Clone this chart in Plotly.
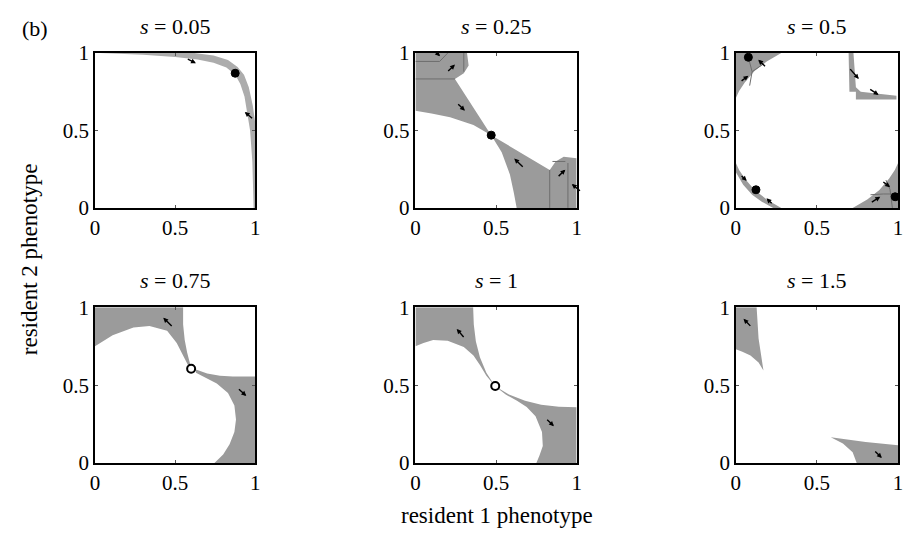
import plotly.graph_objects as go

# ---------------- data ----------------
TITLES = ["0.05", "0.25", "0.5", "0.75", "1", "1.5"]
TICK_VALS = [0, 0.5, 1]
TICK_TEXT = ["0", "0.5", "1"]
X_TITLE = "resident 1 phenotype"
Y_TITLE = "resident 2 phenotype"
PANEL_LABEL = "(b)"

# s = 0.05 : thin band near the upper-right boundary
P1_BAND_X = [0.03, 0.62, 0.74, 0.83, 0.89, 0.93, 0.96, 0.985, 1.0, 1.0, 0.99, 0.982, 0.968, 0.953, 0.933, 0.907, 0.875, 0.82, 0.74, 0.64, 0.50, 0.30, 0.03]
P1_BAND_Y = [1.0, 1.0, 0.985, 0.955, 0.91, 0.86, 0.78, 0.66, 0.55, 0.0, 0.0, 0.30, 0.50, 0.60, 0.72, 0.80, 0.86, 0.907, 0.937, 0.958, 0.975, 0.99, 1.0]
P1_DOTS_X = [0.875]
P1_DOTS_Y = [0.87]
P1_ARROWS = [(0.57, 0.965, 0.63, 0.935), (0.99, 0.57, 0.935, 0.62)]

# s = 0.25
P2_TL_X = [0.0, 0.32, 0.33, 0.30, 0.245, 0.47, 0.36, 0.215, 0.10, 0.0]
P2_TL_Y = [1.0, 1.0, 0.92, 0.87, 0.833, 0.47, 0.535, 0.586, 0.61, 0.628]
P2_BR_X = [1.0, 1.0, 0.92, 0.87, 0.833, 0.47, 0.535, 0.586, 0.61, 0.628]
P2_BR_Y = [0.0, 0.32, 0.33, 0.30, 0.245, 0.47, 0.36, 0.215, 0.10, 0.0]
P2_LINE_X = [0.0, 0.245, None, 0.0, 0.15, 0.20, None, 0.30, 0.30, None, 0.833, 0.833, None, 0.946, 0.946, None, 0.85, 0.93]
P2_LINE_Y = [0.833, 0.833, None, 0.946, 0.946, 1.0, None, 1.0, 0.88, None, 0.0, 0.245, None, 0.0, 0.29, None, 0.30, 0.30]
P2_DOTS_X = [0.47]
P2_DOTS_Y = [0.47]
P2_ARROWS = [(0.112, 1.02, 0.153, 0.98), (0.194, 0.875, 0.245, 0.926), (0.256, 0.679, 0.307, 0.628),
             (0.675, 0.257, 0.613, 0.319), (0.879, 0.196, 0.93, 0.247), (1.03, 0.103, 0.97, 0.154)]

# s = 0.5
P3_TL_X = [0.0, 0.28, 0.19, 0.115, 0.055, 0.02, 0.0]
P3_TL_Y = [1.0, 1.0, 0.945, 0.885, 0.81, 0.755, 0.71]
P3_TR_X = [0.695, 0.725, 0.74, 0.77, 0.99, 0.99, 0.74, 0.74, 0.70]
P3_TR_Y = [1.0, 1.0, 0.78, 0.75, 0.725, 0.70, 0.70, 0.75, 0.75]
P3_BL_X = [0.0, 0.02, 0.055, 0.115, 0.19, 0.28, 0.23, 0.16, 0.10, 0.045, 0.0]
P3_BL_Y = [0.29, 0.245, 0.19, 0.115, 0.055, 0.0, 0.0, 0.04, 0.085, 0.15, 0.23]
P3_BR_X = [0.72, 0.81, 0.885, 0.945, 0.98, 1.0, 1.0, 0.72]
P3_BR_Y = [0.0, 0.055, 0.115, 0.19, 0.245, 0.29, 0.0, 0.0]
P3_LINE_X = [0.077, 0.10, 0.085, None, 0.10, 0.17, None, 0.83, 0.91, 1.0, None, 0.925, 0.95, 0.965]
P3_LINE_Y = [0.973, 0.88, 0.79, None, 0.88, 0.93, None, 0.085, 0.09, 0.09, None, 0.18, 0.12, 0.0]
P3_DOTS_X = [0.077, 0.124, 0.982]
P3_DOTS_Y = [0.973, 0.117, 0.072]
P3_ARROWS = [(0.189, 0.906, 0.138, 0.957), (0.026, 0.813, 0.077, 0.854), (0.697, 0.906, 0.758, 0.833),
             (0.819, 0.772, 0.88, 0.73), (0.026, 0.216, 0.067, 0.175), (0.23, 0.02, 0.189, 0.062),
             (0.90, 0.175, 0.951, 0.134), (0.829, 0.031, 0.89, 0.072)]

# s = 0.75
P4_TL_X = [0.0, 0.55, 0.55, 0.56, 0.575, 0.59, 0.60, 0.58, 0.55, 0.51, 0.45, 0.34, 0.24, 0.11, 0.0]
P4_TL_Y = [1.0, 1.0, 0.89, 0.79, 0.71, 0.64, 0.61, 0.63, 0.69, 0.77, 0.85, 0.88, 0.87, 0.82, 0.75]
P4_BR_X = [1.0, 1.0, 0.86, 0.78, 0.70, 0.63, 0.63, 0.69, 0.76, 0.83, 0.87, 0.88, 0.87, 0.84, 0.80, 0.745]
P4_BR_Y = [0.0, 0.555, 0.555, 0.56, 0.575, 0.60, 0.58, 0.55, 0.51, 0.45, 0.37, 0.28, 0.20, 0.12, 0.055, 0.0]
P4_OPEN_X = [0.60]
P4_OPEN_Y = [0.605]
P4_ARROWS = [(0.488, 0.871, 0.426, 0.933), (0.889, 0.483, 0.944, 0.431)]

# s = 1
P5_TL_X = [0.0, 0.358, 0.362, 0.375, 0.40, 0.44, 0.49, 0.48, 0.44, 0.40, 0.36, 0.30, 0.20, 0.11, 0.05, 0.0]
P5_TL_Y = [1.0, 1.0, 0.89, 0.78, 0.68, 0.58, 0.50, 0.51, 0.56, 0.63, 0.69, 0.745, 0.785, 0.79, 0.77, 0.75]
P5_BR_X = [1.0, 1.0, 0.89, 0.78, 0.68, 0.58, 0.50, 0.51, 0.56, 0.63, 0.69, 0.745, 0.785, 0.79, 0.77, 0.75]
P5_BR_Y = [0.0, 0.358, 0.362, 0.375, 0.40, 0.44, 0.49, 0.48, 0.44, 0.40, 0.36, 0.30, 0.20, 0.11, 0.05, 0.0]
P5_OPEN_X = [0.495]
P5_OPEN_Y = [0.495]
P5_ARROWS = [(0.307, 0.80, 0.256, 0.861), (0.808, 0.288, 0.859, 0.237)]

# s = 1.5
P6_TL_X = [0.0, 0.128, 0.14, 0.17, 0.14, 0.09, 0.04, 0.0]
P6_TL_Y = [1.0, 1.0, 0.80, 0.595, 0.645, 0.69, 0.715, 0.73]
P6_BR_X = [0.585, 0.80, 1.0, 1.0, 0.745, 0.72, 0.66]
P6_BR_Y = [0.166, 0.135, 0.115, 0.0, 0.0, 0.07, 0.125]
P6_ARROWS = [(0.098, 0.871, 0.047, 0.926), (0.85, 0.084, 0.90, 0.033)]

# ---------------- figure ----------------
W, H = 909, 541
GRAY = "#9b9b9b"
LIGHT = "#acacac"
LINE_GRAY = "#6e6e6e"
FONT = "Liberation Serif, Times New Roman, Times, DejaVu Serif, serif"
FS = 22

# panel frames in pixels (left, right, top, bottom)
PANELS = [(91, 253, 43, 205), (415, 578, 43, 205), (739, 903, 43, 205),
          (91, 253, 309, 472), (415, 578, 309, 472), (739, 903, 309, 472)]

fig = go.Figure()
layout = dict(width=W, height=H, margin=dict(l=0, r=0, t=0, b=0),
              paper_bgcolor="white", plot_bgcolor="white", showlegend=False,
              font=dict(family=FONT, size=FS, color="black"))
annotations = []

for i, (l, r, t, b) in enumerate(PANELS):
    k = "" if i == 0 else str(i + 1)
    common = dict(range=[0, 1], showgrid=False, zeroline=False, showline=True, mirror="ticks",
                  linecolor="black", linewidth=1.5, ticks="inside", ticklen=3,
                  tickcolor="#555", tickvals=TICK_VALS, ticktext=TICK_TEXT,
                  tickfont=dict(family=FONT, size=FS - 1, color="black"), fixedrange=True)
    layout["xaxis" + k] = dict(domain=[l / W, r / W], anchor="y" + k, **common)
    layout["yaxis" + k] = dict(domain=[1 - b / H, 1 - t / H], anchor="x" + k, **common)
    annotations.append(dict(text="<i>s</i> = " + TITLES[i], x=(l + r) / 2 / W, y=1 - (t - 28) / H,
                            xref="paper", yref="paper", showarrow=False, xanchor="center",
                            yanchor="middle", font=dict(family=FONT, size=FS, color="black")))


def poly(xs, ys, idx, color=GRAY):
    k = "" if idx == 0 else str(idx + 1)
    fig.add_trace(go.Scatter(x=xs, y=ys, mode="lines", fill="toself", fillcolor=color,
                             line=dict(width=0, color=color), hoverinfo="skip",
                             xaxis="x" + k, yaxis="y" + k))


def lines(xs, ys, idx):
    k = "" if idx == 0 else str(idx + 1)
    fig.add_trace(go.Scatter(x=xs, y=ys, mode="lines", line=dict(width=1, color=LINE_GRAY),
                             hoverinfo="skip", xaxis="x" + k, yaxis="y" + k, connectgaps=False))


def dots(xs, ys, idx, open_=False):
    k = "" if idx == 0 else str(idx + 1)
    if open_:
        m = dict(size=8, color="white", line=dict(color="black", width=2))
    else:
        m = dict(size=8, color="black", line=dict(color="black", width=1))
    fig.add_trace(go.Scatter(x=xs, y=ys, mode="markers", marker=m, hoverinfo="skip",
                             xaxis="x" + k, yaxis="y" + k))


def arrows(lst, idx):
    k = "" if idx == 0 else str(idx + 1)
    for (x0, y0, x1, y1) in lst:
        annotations.append(dict(x=x1, y=y1, ax=x0, ay=y0, xref="x" + k, yref="y" + k,
                                axref="x" + k, ayref="y" + k, text="", showarrow=True,
                                arrowhead=2, arrowsize=0.7, arrowwidth=1.4, arrowcolor="black",
                                standoff=0, startstandoff=0))


poly(P1_BAND_X, P1_BAND_Y, 0, LIGHT)
dots(P1_DOTS_X, P1_DOTS_Y, 0)
arrows(P1_ARROWS, 0)

poly(P2_TL_X, P2_TL_Y, 1)
poly(P2_BR_X, P2_BR_Y, 1)
lines(P2_LINE_X, P2_LINE_Y, 1)
dots(P2_DOTS_X, P2_DOTS_Y, 1)
arrows(P2_ARROWS, 1)

poly(P3_TL_X, P3_TL_Y, 2)
poly(P3_TR_X, P3_TR_Y, 2)
poly(P3_BL_X, P3_BL_Y, 2)
poly(P3_BR_X, P3_BR_Y, 2)
lines(P3_LINE_X, P3_LINE_Y, 2)
dots(P3_DOTS_X, P3_DOTS_Y, 2)
arrows(P3_ARROWS, 2)

poly(P4_TL_X, P4_TL_Y, 3)
poly(P4_BR_X, P4_BR_Y, 3)
dots(P4_OPEN_X, P4_OPEN_Y, 3, open_=True)
arrows(P4_ARROWS, 3)

poly(P5_TL_X, P5_TL_Y, 4)
poly(P5_BR_X, P5_BR_Y, 4)
dots(P5_OPEN_X, P5_OPEN_Y, 4, open_=True)
arrows(P5_ARROWS, 4)

poly(P6_TL_X, P6_TL_Y, 5)
poly(P6_BR_X, P6_BR_Y, 5)
arrows(P6_ARROWS, 5)

annotations.append(dict(text=PANEL_LABEL, x=30 / W, y=1 - 17 / H, xref="paper", yref="paper",
                        showarrow=False, xanchor="center", yanchor="middle",
                        font=dict(family=FONT, size=FS, color="black")))
annotations.append(dict(text=X_TITLE, x=497 / W, y=1 - 527 / H, xref="paper", yref="paper",
                        showarrow=False, xanchor="center", yanchor="middle",
                        font=dict(family=FONT, size=FS + 1, color="black")))
annotations.append(dict(text=Y_TITLE, x=25 / W, y=1 - 259 / H, xref="paper", yref="paper",
                        showarrow=False, xanchor="center", yanchor="middle", textangle=-90,
                        font=dict(family=FONT, size=FS + 1, color="black")))

layout["annotations"] = annotations
fig.update_layout(**layout)
fig.write_html("out.html")
